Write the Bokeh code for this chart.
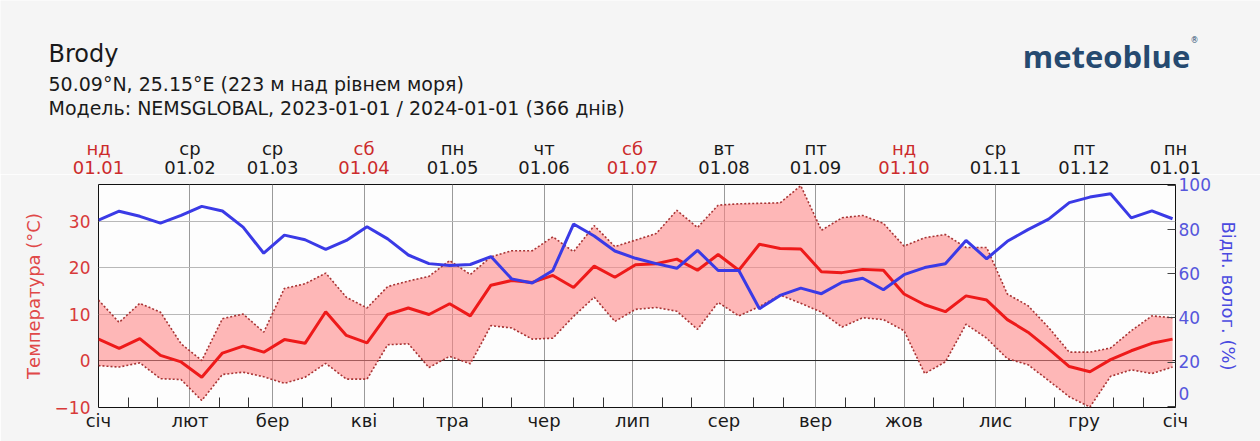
from bokeh.plotting import figure
from bokeh.layouts import column
from bokeh.models import Range1d, LinearAxis, FixedTicker, Span
from bokeh.core.properties import value
from bokeh.embed import file_html
from bokeh.resources import INLINE

# Weekly samples, day offsets from 2023-01-01
week_day = list(range(0, 365, 7))

temp_mean = [4.6, 2.6, 4.7, 1.1, -0.3, -3.6, 1.6, 3.1, 1.8, 4.5,
             3.7, 10.5, 5.4, 3.8, 9.9, 11.3, 9.9, 12.2, 9.6, 16.2,
             17.2, 16.8, 18.3, 15.7, 20.3, 17.9, 20.6, 20.8, 21.8, 19.4,
             22.8, 19.4, 25.0, 24.1, 24.0, 19.1, 18.9, 19.6, 19.4, 14.3,
             12.0, 10.5, 13.9, 13.0, 8.8, 6.1, 2.5, -1.3, -2.4, 0.2,
             2.1, 3.7, 4.6]

temp_max = [13.0, 8.2, 12.3, 10.4, 3.6, 0.0, 9.0, 10.0, 6.1, 15.5,
            16.5, 18.8, 13.6, 11.3, 15.9, 17.1, 18.1, 21.5, 18.5, 22.3,
            23.6, 23.6, 26.6, 23.4, 29.0, 24.5, 25.9, 27.3, 32.3, 28.6,
            33.4, 33.7, 33.8, 33.9, 37.6, 28.0, 30.7, 31.2, 29.5, 24.6,
            26.4, 27.1, 24.3, 24.3, 14.3, 11.8, 7.1, 1.8, 1.8, 2.7,
            6.4, 9.6, 9.2]

temp_min = [-1.1, -1.4, -0.5, -3.9, -4.1, -8.6, -3.0, -2.5, -3.5, -4.9,
            -3.6, -0.6, -4.0, -4.0, 3.4, 3.6, -1.5, 0.9, -0.7, 7.5,
            7.0, 4.6, 4.8, 9.5, 13.6, 8.4, 11.0, 11.4, 10.6, 6.7,
            12.5, 9.6, 11.6, 14.1, 12.3, 10.4, 7.2, 9.2, 8.8, 6.4,
            -2.8, -0.3, 7.8, 4.8, 0.4, -0.9, -4.3, -7.8, -10.0, -3.4,
            -2.0, -2.8, -1.4]

humidity = [84.3, 88.3, 86.0, 82.9, 86.4, 90.5, 88.4, 81.1, 69.3, 77.5,
            75.4, 71.0, 75.1, 81.3, 75.8, 68.5, 64.6, 63.8, 64.2, 67.8,
            57.7, 55.8, 61.5, 82.5, 77.1, 70.3, 67.0, 64.6, 62.5, 70.6,
            61.5, 61.5, 44.2, 50.2, 53.5, 51.0, 56.2, 58.0, 52.8, 59.6,
            62.8, 64.5, 75.1, 66.8, 74.7, 80.0, 84.7, 92.2, 94.7, 96.2,
            85.3, 88.5, 84.9]

month_start = [0, 31, 59, 90, 120, 151, 181, 212, 243, 273, 304, 334, 365]
month_names = ["січ", "лют", "бер", "кві", "тра", "чер", "лип", "сер",
               "вер", "жов", "лис", "гру", "січ"]
top_weekday = ["нд", "ср", "ср", "сб", "пн", "чт", "сб", "вт", "пт",
               "нд", "ср", "пт", "пн"]
top_date = ["01.01", "01.02", "01.03", "01.04", "01.05", "01.06", "01.07",
            "01.08", "01.09", "01.10", "01.11", "01.12", "01.01"]
weekend = ["нд", "сб"]

temp_ticks = [-10, 0, 10, 20, 30]
rh_ticks = [0, 20, 40, 60, 80, 100]

FONT = "DejaVu Sans"
BG = "#f5f5f5"
W = 1260
HEAD_H = 174
MAIN_H = 441 - HEAD_H
LEFT, RIGHT, TOP, BOTTOM = 98, 85, 10, 34
T_LO, T_HI = -10.1, 37.85
X_LO, X_HI = 0, 365

frame_w = W - LEFT - RIGHT


def cx(day):
    """Day offset -> pixel column of the chart frame."""
    return LEFT + (day - X_LO) * frame_w / (X_HI - X_LO)


# ---------- header strip (pixel coordinates, full width) ----------
head = figure(width=W, height=HEAD_H, x_range=Range1d(0, W),
              y_range=Range1d(HEAD_H, 0), output_backend="svg",
              toolbar_location=None, min_border=0)
head.axis.visible = False
head.grid.visible = False
head.outline_line_color = None
head.background_fill_color = BG
head.border_fill_color = BG


def head_text(xs, ys, texts, size, colors, align="left", font=FONT,
              style="normal"):
    head.text(x=xs, y=ys, text=texts, text_align=align,
              text_baseline="alphabetic", text_font=value(font),
              text_font_size=value(size), text_font_style=style,
              text_color=colors)


head_text([48], [53], ["Brody"], "24px", ["#1a1a1a"])
head_text([48, 48], [83, 107],
          ["50.09°N, 25.15°E (223 м над рівнем моря)",
           "Модель: NEMSGLOBAL, 2023-01-01 / 2024-01-01 (366 днів)"],
          "19px", ["#1a1a1a", "#1a1a1a"])
head_text([1106], [55], ["meteoblue"], "31px", ["#264a70"],
          align="center", font="Open Sans", style="bold")
head_text([1194], [40], ["®"], "8px", ["#264a70"], align="center")

# weekday / date row above each month start, weekends in red
top_x = [cx(d) for d in month_start]
top_col = ["#cc2b2b" if wd in weekend else "#1a1a1a" for wd in top_weekday]
head_text(top_x, [148] * len(top_x), top_weekday, "18px", top_col,
          align="center")
head_text(top_x, [167] * len(top_x), top_date, "18px", top_col,
          align="center")

# ---------- main chart ----------
p = figure(width=W, height=MAIN_H, x_range=Range1d(X_LO, X_HI),
           y_range=Range1d(T_LO, T_HI), output_backend="svg",
           toolbar_location=None, min_border_left=LEFT,
           min_border_right=RIGHT, min_border_top=TOP,
           min_border_bottom=BOTTOM)
p.extra_y_ranges = {"rh": Range1d(-0.5, 100.4)}

p.background_fill_color = "#fdfdfd"
p.border_fill_color = BG
p.outline_line_color = "#111111"
p.outline_line_width = 1

# bottom axis: months, minor ticks on the 11th and 21st
minor = [d + k for d in month_start[:-1] for k in (10, 20)]
xa = p.xaxis[0]
xa.ticker = FixedTicker(ticks=month_start, minor_ticks=minor)
xa.major_label_overrides = {d: n for d, n in zip(month_start, month_names)}
xa.axis_line_color = None
xa.major_tick_in = 0
xa.major_tick_out = 0
xa.minor_tick_in = 10
xa.minor_tick_out = 0
xa.minor_tick_line_color = "#333333"
xa.major_label_standoff = 2
xa.major_label_text_font = FONT
xa.major_label_text_font_size = "18px"
xa.major_label_text_color = "#1a1a1a"

# left axis: temperature
ya = p.yaxis[0]
ya.ticker = FixedTicker(ticks=temp_ticks)
ya.major_label_overrides = {-10: "−10"}
ya.axis_line_color = None
ya.major_tick_in = 0
ya.major_tick_out = 0
ya.minor_tick_line_color = None
ya.major_label_standoff = 8
ya.major_label_text_font = FONT
ya.major_label_text_font_size = "17px"
ya.major_label_text_color = "#d83a3a"
ya.axis_label = "Температура (°C)"
ya.axis_label_text_font = FONT
ya.axis_label_text_font_size = "18px"
ya.axis_label_text_font_style = "normal"
ya.axis_label_text_color = "#e04848"
ya.axis_label_standoff = 8

# right axis: relative humidity; the 0 label is lifted off the bottom edge
ra = LinearAxis(y_range_name="rh", ticker=FixedTicker(ticks=rh_ticks),
                axis_label="Відн. волог. (%)")
ra.major_label_overrides = {0: "0\n"}
ra.axis_line_color = None
ra.major_tick_in = 8
ra.major_tick_out = 0
ra.major_tick_line_color = "#444444"
ra.minor_tick_line_color = None
ra.major_label_standoff = 3
ra.major_label_text_font = FONT
ra.major_label_text_font_size = "17px"
ra.major_label_text_color = "#5656dc"
ra.axis_label_text_font = FONT
ra.axis_label_text_font_size = "18px"
ra.axis_label_text_font_style = "normal"
ra.axis_label_text_color = "#4a4ae0"
ra.axis_label_standoff = 4
p.add_layout(ra, "right")

# grids
p.xgrid.ticker = FixedTicker(ticks=month_start)
p.xgrid.grid_line_color = "#9a9a9a"
p.ygrid.ticker = FixedTicker(ticks=[10, 20, 30])
p.ygrid.grid_line_color = "#b8b8b8"
p.add_layout(Span(location=0, dimension="width", line_color="#222222",
                  line_width=1, level="underlay"))

# temperature range band, bounds, mean, humidity
p.varea(x=week_day, y1=temp_min, y2=temp_max, fill_color="#ff8585",
        fill_alpha=0.58)
p.line(week_day, temp_max, line_color="#a83434", line_width=1.6,
       line_dash="2 2")
p.line(week_day, temp_min, line_color="#a83434", line_width=1.6,
       line_dash="2 2")
p.line(week_day, temp_mean, line_color="#ee1a1a", line_width=3)
p.line(week_day, humidity, y_range_name="rh", line_color="#3a3ae6",
       line_width=3)

# header keeps its own full-width frame
head.frame_align = False
p.frame_align = False

page = column(head, p, spacing=0)
open("out.html", "w").write(file_html(page, INLINE))
